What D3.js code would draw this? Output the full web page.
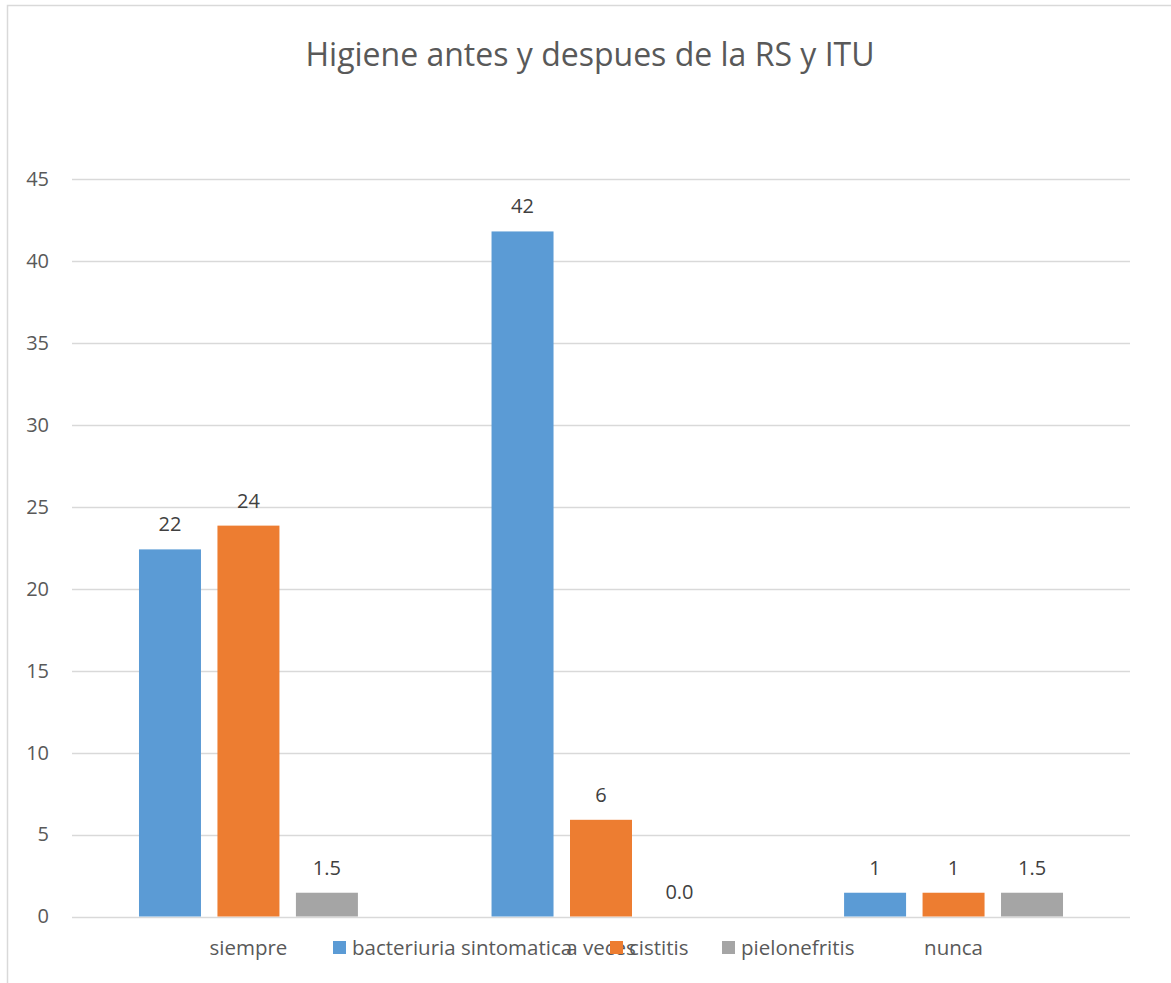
<!DOCTYPE html>
<html>
<head>
<meta charset="utf-8">
<script src="https://cdn.jsdelivr.net/npm/d3@7"></script>
<style>
	body { margin: 0; background: #fff; }
	text { font-family: "Open Sans", "Noto Sans", sans-serif; }
</style>
</head>
<body>
<div id="chart"></div>
<script>

//Data
var categories = ["siempre", "a veces", "nunca"];
var series = ["bacteriuria sintomatica", "cistitis", "pielonefritis"];
var colours = ["#5B9BD5", "#ED7D31", "#A5A5A5"];
var bacteriuria = [22.4, 41.8, 1.45];
var cistitis = [23.85, 5.9, 1.45];
var pielonefritis = [1.45, 0, 1.45];
var bacteriuriaLabels = ["22", "42", "1"];
var cistitisLabels = ["24", "6", "1"];
var pielonefritisLabels = ["1.5", "0.0", "1.5"];
var yTicks = [0, 5, 10, 15, 20, 25, 30, 35, 40, 45];

var values = [bacteriuria, cistitis, pielonefritis];
var labels = [bacteriuriaLabels, cistitisLabels, pielonefritisLabels];

///////////////////////////////////////////////////////////////////////////
//////////////////// Set up and initiate svg container ////////////////////
///////////////////////////////////////////////////////////////////////////

var width = 1171;
var height = 983;
var plot = { left: 72, right: 1130, top: 179, bottom: 916.5 };

var svg = d3.select("#chart")
	.append("svg")
	.attr("width", width)
	.attr("height", height);

//Chart frame
svg.append("rect")
	.attr("x", 7.5)
	.attr("y", 5.5)
	.attr("width", 1300)
	.attr("height", 1100)
	.style("fill", "none")
	.style("stroke", "#D9D9D9")
	.style("stroke-width", 1.5);

//Title
svg.append("text")
	.attr("x", 590)
	.attr("y", 66)
	.attr("text-anchor", "middle")
	.style("font-size", "32px")
	.style("fill", "#595959")
	.text("Higiene antes y despues de la RS y ITU");

///////////////////////////////////////////////////////////////////////////
///////////////////////////////// Scales //////////////////////////////////
///////////////////////////////////////////////////////////////////////////

var y = d3.scaleLinear()
	.domain([0, 45])
	.range([plot.bottom, plot.top]);

var x0 = d3.scaleBand()
	.domain(categories)
	.range([plot.left, plot.right])
	.paddingInner(0.379)
	.paddingOuter(0.19);

var x1 = d3.scaleBand()
	.domain(series)
	.range([0, x0.bandwidth()])
	.paddingInner(0.21);

//Gridlines
svg.append("g")
	.selectAll("line")
	.data(yTicks)
	.enter().append("line")
	.attr("x1", plot.left)
	.attr("x2", plot.right)
	.attr("y1", function(d) { return Math.round(y(d)) + 0.5; })
	.attr("y2", function(d) { return Math.round(y(d)) + 0.5; })
	.style("stroke", "#D9D9D9")
	.style("stroke-width", 1.5);

//Y axis
var yAxis = svg.append("g")
	.attr("transform", "translate(" + 49 + ",0)")
	.call(d3.axisLeft(y).tickValues(yTicks).tickSize(0).tickPadding(0));
yAxis.select(".domain").remove();
yAxis.selectAll("text")
	.style("font-size", "20px")
	.style("font-family", "'Open Sans', sans-serif")
	.style("fill", "#595959");

//X axis labels
var xAxis = svg.append("g")
	.attr("transform", "translate(0," + 948 + ")")
	.call(d3.axisBottom(x0).tickSize(0).tickPadding(0));
xAxis.select(".domain").remove();
xAxis.selectAll("text")
	.attr("dy", "0.35em")
	.style("font-size", "20.5px")
	.style("font-family", "'Open Sans', sans-serif")
	.style("fill", "#595959");

///////////////////////////////////////////////////////////////////////////
////////////////////////////////// Bars ///////////////////////////////////
///////////////////////////////////////////////////////////////////////////

var groups = svg.selectAll(".series")
	.data(series)
	.enter().append("g")
	.attr("class", "series");

groups.each(function(s, si) {
	var g = d3.select(this);
	var rows = categories.map(function(c, ci) {
		return { cat: c, value: values[si][ci], label: labels[si][ci] };
	});

	g.selectAll("rect")
		.data(rows)
		.enter().append("rect")
		.attr("x", function(d) { return x0(d.cat) + x1(s); })
		.attr("y", function(d) { return y(d.value); })
		.attr("width", x1.bandwidth())
		.attr("height", function(d) { return y(0) - y(d.value); })
		.style("fill", colours[si]);

	g.selectAll("text")
		.data(rows)
		.enter().append("text")
		.attr("x", function(d) { return x0(d.cat) + x1(s) + x1.bandwidth()/2; })
		.attr("y", function(d) { return y(d.value) - 18; })
		.attr("text-anchor", "middle")
		.style("font-size", "20px")
		.style("fill", "#404040")
		.text(function(d) { return d.label; });
});

///////////////////////////////////////////////////////////////////////////
///////////////////////////////// Legend //////////////////////////////////
///////////////////////////////////////////////////////////////////////////

var legendX = [333, 610, 722];
var legend = svg.selectAll(".legend")
	.data(series)
	.enter().append("g")
	.attr("class", "legend")
	.attr("transform", function(d, i) { return "translate(" + legendX[i] + "," + 948 + ")"; });

legend.append("rect")
	.attr("x", 0)
	.attr("y", -7)
	.attr("width", 13)
	.attr("height", 13)
	.style("fill", function(d, i) { return colours[i]; });

legend.append("text")
	.attr("x", 19)
	.attr("dy", "0.35em")
	.style("font-size", "20.5px")
	.style("fill", "#595959")
	.text(function(d) { return d; });

</script>
</body>
</html>
